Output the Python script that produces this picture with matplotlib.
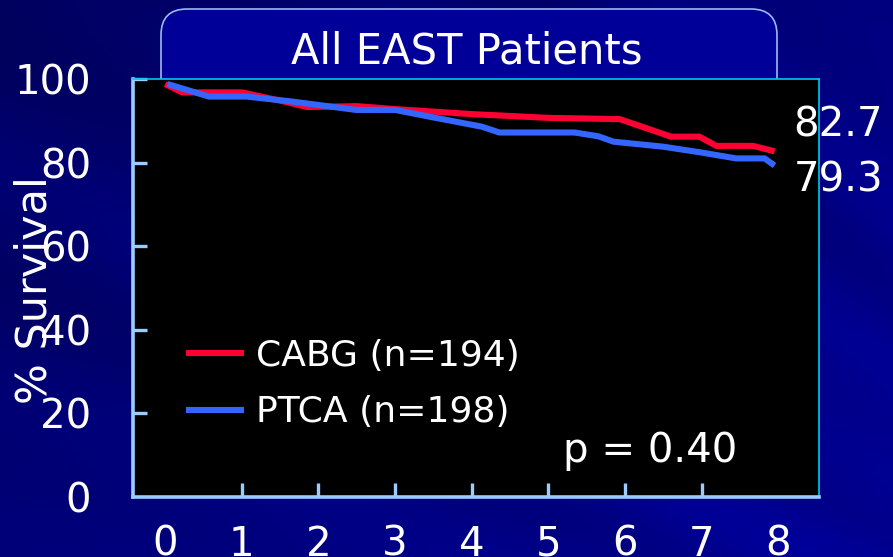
import numpy as np
import matplotlib.pyplot as plt
from matplotlib.patches import FancyBboxPatch

# survival curves, years of follow-up vs % survival
cabg_years = [0, 0.22, 1.0, 1.53, 1.85, 2.5, 3.0, 4.0, 5.0, 5.93, 6.6, 6.97, 7.19, 7.67, 7.95]
cabg_surv = [98.8, 96.8, 96.8, 94.7, 93.3, 93.5, 92.8, 91.6, 90.7, 90.4, 86.2, 86.2, 84.0, 84.0, 82.7]
ptca_years = [0.03, 0.57, 1.06, 1.66, 2.49, 3.0, 3.5, 4.13, 4.36, 5.34, 5.65, 5.85, 6.5, 7.0, 7.45, 7.82, 7.95]
ptca_surv = [98.8, 95.8, 95.8, 94.6, 92.6, 92.6, 90.8, 88.6, 87.2, 87.2, 86.3, 85.0, 83.8, 82.4, 81.0, 81.0, 79.3]

cabg_label = "CABG (n=194)"
ptca_label = "PTCA (n=198)"
p_text = "p = 0.40"
x_ticks = list(range(0, 9))
y_ticks = list(range(0, 101, 20))

W, H = 893, 557
fig = plt.figure(figsize=(W / 100, H / 100), dpi=100)

# navy slide background with faint rays
bg = fig.add_axes([0, 0, 1, 1], zorder=0)
yy, xx = np.mgrid[0:H, 0:W]
ang = np.arctan2(1080 - yy, 1900 - xx)
rays = 0.5 * np.sin(ang * 45) + 0.5 * np.sin(ang * 71 + 1.3)
blue = 98 + 50 * (0.6 * xx / W + 0.4 * yy / H) + 10 * rays
img = np.zeros((H, W, 3))
img[..., 2] = np.clip(blue, 0, 255) / 255
bg.imshow(img, extent=[0, W, H, 0], aspect="auto")
bg.set_xlim(0, W)
bg.set_ylim(H, 0)
bg.axis("off")

box = FancyBboxPatch((161, 9), 616, 100, boxstyle="round,pad=0,rounding_size=26",
                     fc="#000099", ec="#99bbee", lw=1.2)
bg.add_patch(box)
bg.text(467, 63, "All EAST Patients", ha="center", va="baseline",
        fontsize=30, color="white")
bg.text(35, 290, "% Survival", rotation=90, ha="center", va="center",
        fontsize=31, color="white")

ax = fig.add_axes([133 / W, 60 / H, 686 / W, 418 / H], zorder=1)
ax.set_facecolor("black")
ax.plot(cabg_years, cabg_surv, color="#ff0033", lw=4.4, label=cabg_label,
        solid_joinstyle="miter", solid_capstyle="butt")
ax.plot(ptca_years, ptca_surv, color="#3366ff", lw=4.4, label=ptca_label,
        solid_joinstyle="miter", solid_capstyle="butt")

ax.set_xlim(-0.42, 8.53)
ax.set_ylim(0, 100)
ax.set_xticks(x_ticks)
ax.set_yticks(y_ticks)

for side in ["left", "bottom"]:
    ax.spines[side].set_color("#99ccff")
    ax.spines[side].set_linewidth(2.6)
for side in ["top", "right"]:
    ax.spines[side].set_color("#00c8ee")
    ax.spines[side].set_linewidth(1.2)

ax.tick_params(direction="in", length=10, width=2.4, color="#99ccff",
               labelcolor="white", labelsize=29)
ax.tick_params(axis="x", pad=20)
ax.tick_params(axis="y", pad=30)
xt = ax.xaxis.get_major_ticks()
xt[0].tick1line.set_visible(False)
xt[-1].tick1line.set_visible(False)
ax.yaxis.get_major_ticks()[0].tick1line.set_visible(False)

# end-of-follow-up values
ax.annotate(f"{cabg_surv[-1]}", xy=(cabg_years[-1], cabg_surv[-1]),
            xytext=(13.5, 11), textcoords="offset points", va="baseline",
            fontsize=29, color="white", annotation_clip=False)
ax.annotate(f"{ptca_surv[-1]}", xy=(ptca_years[-1], ptca_surv[-1]),
            xytext=(13.5, -19), textcoords="offset points", va="baseline",
            fontsize=29, color="white", annotation_clip=False)

ax.text(563, 462, p_text, transform=bg.transData, fontsize=29,
        color="white", va="baseline", ha="left")

leg = ax.legend(loc="upper left", bbox_to_anchor=(186, 339),
                bbox_transform=bg.transData, frameon=False, fontsize=26,
                borderpad=0, borderaxespad=0, handlelength=1.6,
                handletextpad=0.35, labelspacing=0.62, labelcolor="white")

fig.savefig("out.png", dpi=100)
